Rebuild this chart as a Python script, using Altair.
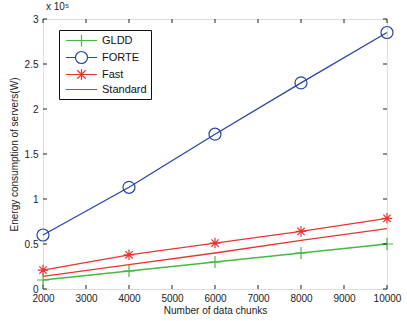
import altair as alt
import pandas as pd

series_names = ["GLDD", "FORTE", "Fast", "Standard"]
chunks = [2000, 4000, 6000, 8000, 10000]
gldd = [0.10, 0.20, 0.30, 0.40, 0.50]
forte = [0.60, 1.13, 1.72, 2.29, 2.85]
fast = [0.21, 0.38, 0.51, 0.64, 0.785]
standard = [0.14, 0.27, 0.40, 0.54, 0.67]
colors = ["#44b944", "#2a44aa", "#e8352e", "#e8352e"]
x_ticks = [2000, 3000, 4000, 5000, 6000, 7000, 8000, 9000, 10000]
y_ticks = [0, 0.5, 1, 1.5, 2, 2.5, 3]

rows = []
for name, vals in zip(series_names, [gldd, forte, fast, standard]):
    for c, v in zip(chunks, vals):
        rows.append({"series": name, "chunks": c, "energy": v})
df = pd.DataFrame(rows)
xt_df = pd.DataFrame({"t": x_ticks})
yt_df = pd.DataFrame({"t": y_ticks})

W, H = 344, 270
TL = 4  # inward tick length
FONT = "Liberation Sans"

xs = alt.Scale(domain=[2000, 10000], nice=False, zero=False)
ys = alt.Scale(domain=[0, 3], nice=False)
cscale = alt.Scale(domain=series_names, range=colors)

plus_path = "M-1,0H1M0,-1V1"
star_path = "M-1,0H1M0,-1V1M-0.7,-0.7L0.7,0.7M-0.7,0.7L0.7,-0.7"
leg_paths = [
    "M-2.84,0H2.84M-1.09,0H1.09M0,-1.09V1.09",
    "M-2.84,0H-1.09M1.09,0H2.84M-1.09,0A1.09,1.09,0,1,0,1.09,0A1.09,1.09,0,1,0,-1.09,0Z",
    "M-2.84,0H2.84M0,-1.0V1.0M-0.77,-0.77L0.77,0.77M-0.77,0.77L0.77,-0.77",
    "M-2.84,0H2.84",
]

x_axis = alt.Axis(orient="bottom", values=x_ticks, ticks=False, domain=False, grid=False,
                  format="d", labelOverlap=False, labelFlush=False,
                  labelPadding=4, title="Number of data chunks", titlePadding=2,
                  labelFontSize=10, titleFontSize=10, labelFont=FONT, titleFont=FONT,
                  titleFontWeight="normal", labelColor="#222", titleColor="#222")
y_axis = alt.Axis(orient="left", values=y_ticks, ticks=False, domain=False, grid=False,
                  format="~g", labelOverlap=False, labelFlush=False,
                  labelPadding=5, title="Energy consumption of servers(W)",
                  titlePadding=5, labelFontSize=10, titleFontSize=10, labelFont=FONT,
                  titleFont=FONT, titleFontWeight="normal", labelColor="#222", titleColor="#222")


def legend_params():
    return alt.Legend(
        title=None, orient="none", legendX=16, legendY=11,
        symbolSize=121, symbolStrokeWidth=1.2, symbolOpacity=1,
        symbolFillColor="transparent", symbolOffset=12,
        labelOffset=14, labelFont=FONT, labelFontSize=11, labelColor="#111",
        padding=4, rowPadding=0, strokeColor="#111", fillColor="white",
        cornerRadius=0)


def xy(xfield="chunks:Q", yfield="energy:Q"):
    return dict(x=alt.X(xfield, scale=xs, axis=x_axis), y=alt.Y(yfield, scale=ys, axis=y_axis))


base = alt.Chart(df)

# one line layer per series, fixed colour
line_layers = [
    base.transform_filter(alt.datum.series == name)
    .mark_line(strokeWidth=1.3, color=colors[i]).encode(**xy())
    for i, name in enumerate(series_names)
]

pts_gldd = base.transform_filter(alt.datum.series == "GLDD").mark_point(
    shape=plus_path, size=144, filled=False, strokeWidth=1.2, color=colors[0], opacity=1
).encode(**xy())

pts_forte = base.transform_filter(alt.datum.series == "FORTE").mark_point(
    shape="circle", size=144, filled=False, strokeWidth=1.2, color=colors[1], opacity=1
).encode(**xy())

pts_fast = base.transform_filter(alt.datum.series == "Fast").mark_point(
    shape=star_path, size=110, filled=False, strokeWidth=1.2, color=colors[2], opacity=1
).encode(**xy())

legend_layer = base.transform_filter("false").mark_point(filled=False).encode(
    **xy(),
    color=alt.Color("series:N", scale=cscale, legend=legend_params()),
    shape=alt.Shape("series:N", scale=alt.Scale(domain=series_names, range=leg_paths),
                    legend=legend_params()),
)

# inward tick marks on all four sides
tick_style = dict(color="#222", strokeWidth=1)
xt_bottom = alt.Chart(xt_df).mark_rule(**tick_style).encode(
    x=alt.X("t:Q", scale=xs, axis=x_axis), y=alt.value(H), y2=alt.value(H - TL))
xt_top = alt.Chart(xt_df).mark_rule(**tick_style).encode(
    x=alt.X("t:Q", scale=xs, axis=x_axis), y=alt.value(0), y2=alt.value(TL))
yt_left = alt.Chart(yt_df).mark_rule(**tick_style).encode(
    y=alt.Y("t:Q", scale=ys, axis=y_axis), x=alt.value(0), x2=alt.value(TL))
yt_right = alt.Chart(yt_df).mark_rule(**tick_style).encode(
    y=alt.Y("t:Q", scale=ys, axis=y_axis), x=alt.value(W), x2=alt.value(W - TL))

chart = alt.layer(
    *line_layers, pts_gldd, pts_forte, pts_fast, legend_layer,
    xt_bottom, xt_top, yt_left, yt_right,
).properties(
    width=W, height=H,
    title=alt.TitleParams("x 10⁵", anchor="start", frame="group", fontSize=10, font=FONT,
                          fontWeight="normal", color="#222", dx=3, offset=2),
    autosize=alt.AutoSizeParams(type="none"),
    padding={"left": 43, "top": 19, "right": 20, "bottom": 32},
).configure_view(stroke="#222", strokeWidth=1).configure(background="white")

chart.save("out.html", embed_options={"renderer": "svg", "actions": False})
